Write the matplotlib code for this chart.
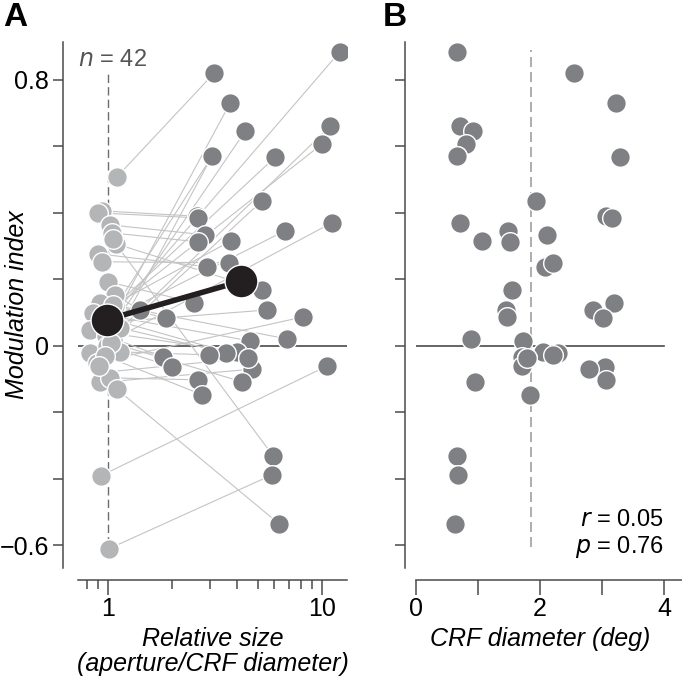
import numpy as np
import matplotlib
matplotlib.use("Agg")
import matplotlib.pyplot as plt
from matplotlib.ticker import FixedLocator, NullFormatter

plt.rcParams['font.family'] = ['Liberation Sans', 'DejaVu Sans']

# one entry per neuron: large aperture (dark) and CRF-sized aperture (light)
rel_size = [12.1, 3.13, 3.72, 10.9, 4.37, 10.0, 3.06, 6.03, 5.24, 2.61, 2.63, 11.1, 6.71, 2.84,
            3.76, 2.63, 2.90, 3.68, 5.24, 2.52, 5.53, 1.41, 8.15, 1.87, 6.86, 4.61, 4.01, 3.56,
            2.96, 1.81, 4.51, 10.6, 1.99, 4.71, 2.63, 4.23, 2.75, 5.90, 5.84, 6.30, 3.06, 4.51]
mi_large = [0.884, 0.82, 0.73, 0.66, 0.645, 0.607, 0.57, 0.567, 0.436, 0.39, 0.385, 0.37, 0.346, 0.334,
            0.316, 0.313, 0.238, 0.25, 0.168, 0.13, 0.108, 0.108, 0.087, 0.084, 0.021, 0.015, -0.018, -0.021,
            -0.027, -0.033, -0.036, -0.06, -0.063, -0.07, -0.102, -0.108, -0.147, -0.33, -0.388, -0.535, 0.57, -0.036]
crf_diam = [0.66, 2.55, 3.23, 0.71, 0.92, 0.81, 0.66, 3.29, 1.93, 3.06, 3.16, 0.71, 1.48, 2.11,
            1.06, 1.52, 2.08, 2.21, 1.55, 3.19, 1.45, 2.85, 1.47, 3.02, 0.89, 1.73, 2.05, 2.29,
            2.21, 1.71, 1.79, 1.71, 3.05, 2.79, 3.06, 0.95, 1.84, 0.66, 0.68, 0.63, 0.66, 1.79]
small_size = [1.08, 1.10, 1.06, 1.14, 1.00, 1.00, 0.95, 1.08, 1.05, 0.94, 0.90, 0.82, 1.02, 1.02,
              0.97, 1.04, 0.90, 0.94, 1.09, 1.00, 0.96, 1.08, 0.89, 0.92, 1.06, 0.85, 0.82, 1.14,
              1.14, 0.98, 0.94, 0.93, 0.99, 0.92, 1.02, 1.03, 0.97, 1.05, 1.01, 1.10, 0.91, 1.04]
mi_small = [0.10, 0.508, 0.08, 0.05, 0.04, 0.10, 0.06, 0.12, 0.02, 0.406, 0.40, -0.02, 0.08, 0.364,
            0.11, 0.34, 0.277, 0.253, 0.307, 0.193, 0.07, 0.153, -0.05, 0.129, 0.123, 0.10, 0.048, 0.054,
            -0.018, 0.03, -0.08, -0.39, 0.0, -0.11, -0.096, 0.01, -0.03, 0.32, -0.61, -0.13, -0.06, 0.08]

n_cells = len(rel_size)
r_text = "$r$ = 0.05"
p_text = "$p$ = 0.76"

dark = "#7f8083"
light = "#b4b5b7"
axcol = "#4a4a4a"

fig = plt.figure(figsize=(6.82, 6.83), dpi=100)
axA = fig.add_axes([78/682, 1-568/683, 269/682, 526/683])
axB = fig.add_axes([416/682, 1-568/683, 266/682, 526/683])

ms = 200
yticks = [-0.6, -0.4, -0.2, 0, 0.2, 0.4, 0.6, 0.8]
ylabs = ["\u22120.6", "", "", "0", "", "", "", "0.8"]

# panel A
for i in range(n_cells):
    axA.plot([small_size[i], rel_size[i]], [mi_small[i], mi_large[i]], color="#c4c4c4", lw=0.8, zorder=1)
axA.axhline(0, color=axcol, lw=1.2, zorder=0.5)
axA.plot([1, 1], [-0.6, 0.825], color="#6d6d6d", lw=1, dashes=(6, 3), zorder=0.6)
axA.scatter(small_size, mi_small, s=ms, color=light, edgecolor="white", linewidth=1, zorder=2)
axA.scatter(rel_size, mi_large, s=ms, color=dark, edgecolor="white", linewidth=1, zorder=3)

# means (geometric for size)
mx = [np.exp(np.mean(np.log(small_size))), np.exp(np.mean(np.log(rel_size)))]
my = [np.mean(mi_small), np.mean(mi_large)]
axA.plot(mx, my, color="#231f20", lw=4, zorder=4)
axA.scatter(mx, my, s=560, color="#231f20", edgecolor="white", linewidth=1, zorder=5)

axA.set_xscale("log")
axA.set_xlim(0.724, 13.1)
axA.set_ylim(-0.668, 0.914)
axA.xaxis.set_major_locator(FixedLocator([1, 10]))
axA.set_xticklabels(["1", "10"])
axA.xaxis.set_minor_locator(FixedLocator([0.8, 0.9, 2, 3, 4, 5, 6, 7, 8, 9]))
axA.xaxis.set_minor_formatter(NullFormatter())
axA.set_yticks(yticks)
axA.set_yticklabels(ylabs)
axA.text(0.0, 0.86, "$n$ = 42", fontsize=17, color="#555555", ha="left", va="center",
         transform=axA.get_yaxis_transform())
axA.set_ylabel("Modulation index", fontsize=18, style="italic")
axA.yaxis.set_label_coords(-0.225, 0.5)
axA.yaxis.label.set_va("center")
axA.set_xlabel("Relative size\n(aperture/CRF diameter)", fontsize=18, style="italic",
               linespacing=1.05)
axA.xaxis.set_label_coords(0.5, -0.112)
axA.xaxis.label.set_va("top")

# panel B
axB.axhline(0, xmin=0, xmax=4/4.29, color=axcol, lw=1.2, zorder=0.5)
axB.plot([1.85, 1.85], [-0.605, 0.89], color="#a0a0a0", lw=1.2, dashes=(6, 3), zorder=0.6)
axB.scatter(crf_diam, mi_large, s=ms, color=dark, edgecolor="white", linewidth=1, zorder=3)
axB.set_xlim(0, 4.29)
axB.set_ylim(-0.668, 0.914)
axB.set_xticks([0, 1, 2, 3, 4])
axB.set_xticklabels(["0", "", "2", "", "4"])
axB.set_yticks(yticks)
axB.set_yticklabels([])
axB.text(4.0, -0.525, r_text, fontsize=17, ha="right", va="center")
axB.text(4.0, -0.605, p_text, fontsize=17, ha="right", va="center")
axB.set_xlabel("CRF diameter (deg)", fontsize=18, style="italic")
axB.xaxis.set_label_coords(0.465, -0.112)
axB.xaxis.label.set_va("top")

for ax, off in [(axA, 10.8), (axB, 7.9)]:
    for s in ["top", "right"]:
        ax.spines[s].set_visible(False)
    ax.spines["left"].set_position(("outward", off))
    ax.spines["bottom"].set_position(("outward", 8.6))
    for s in ["left", "bottom"]:
        ax.spines[s].set_color(axcol)
        ax.spines[s].set_linewidth(1.1)
    ax.tick_params(axis="y", direction="out", length=7.2, width=1.1, color=axcol, labelsize=18, pad=3)
    ax.tick_params(axis="x", which="major", direction="out", length=11, width=1.1, color=axcol,
                   labelsize=18, pad=1)
    ax.tick_params(axis="x", which="minor", direction="out", length=6.5, width=1.1, color=axcol)

fig.text(3/682, 1-17/683, "A", fontsize=24, fontweight="bold", va="center", ha="left")
fig.text(383/682, 1-17/683, "B", fontsize=24, fontweight="bold", va="center", ha="left")

fig.savefig("out.png", dpi=100)
